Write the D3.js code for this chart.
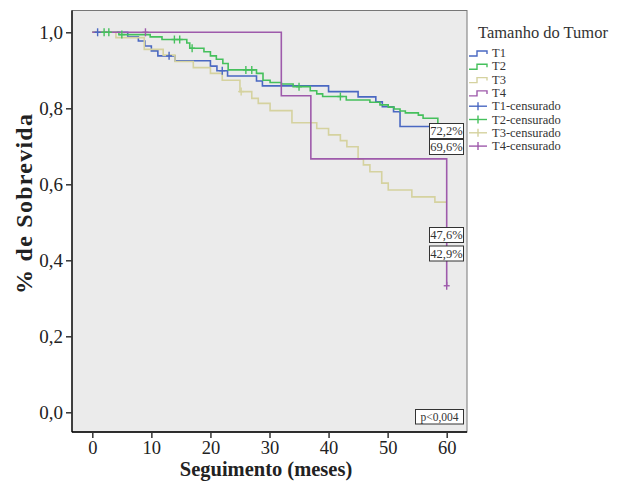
<!DOCTYPE html>
<html><head><meta charset="utf-8">
<script src="https://cdn.jsdelivr.net/npm/d3@7"></script>
<style>body{margin:0;background:#fff}svg{display:block}text{font-family:"Liberation Serif","DejaVu Serif",serif}</style>
</head><body>
<svg id="c" width="617" height="483"></svg>
<script>
const seriesNames = ["T1","T2","T3","T4"];
const censorNames = ["T1-censurado","T2-censurado","T3-censurado","T4-censurado"];
const colors = ["#4a68c2","#45c05c","#d5d29f","#9e5aab"];

const t1Times = [0,6,7.8,8.9,10,11.1,14,20,21.1,22.9,27.8,28.8,40,45,48,49.1,51,52.1,58.5,60];
const t1Surv  = [1,0.988,0.977,0.964,0.951,0.938,0.925,0.911,0.899,0.885,0.872,0.859,0.844,0.830,0.817,0.804,0.791,0.752,0.722,0.722];
const t2Times = [0,4.5,9.8,11.8,16,16.5,18.9,20,21,22.1,23,27.8,28.9,30.1,32,34,36.9,38,39,43,47,48.7,50.1,51.1,52.1,53,55.2,56,58.5,59.5,60];
const t2Surv  = [1,0.994,0.988,0.981,0.972,0.958,0.949,0.938,0.929,0.918,0.901,0.892,0.874,0.868,0.864,0.857,0.846,0.838,0.831,0.822,0.816,0.809,0.803,0.798,0.793,0.788,0.782,0.774,0.735,0.696,0.696];
const t3Times = [0,4,8.8,12,14,17.1,20,22,25,27,28.1,30.1,33.8,38,40,42,43.1,45,45.9,47,49,50.1,54.1,58,60];
const t3Surv  = [1,0.986,0.955,0.94,0.923,0.907,0.892,0.874,0.844,0.826,0.813,0.794,0.762,0.747,0.730,0.715,0.699,0.666,0.651,0.633,0.603,0.585,0.567,0.553,0.553];
const t4Times = [0,32,37,60];
const t4Surv  = [1,0.833,0.667,0.333];

const c1Times = [0.9,13,22];
const c1Surv  = [1,0.938,0.899];
const c2Times = [2.0,2.8,5.0,13.9,14.8,16.9,26,27,35,42,60];
const c2Surv  = [1,1,0.994,0.981,0.981,0.958,0.901,0.901,0.857,0.831,0.696];
const c3Times = [25.2];
const c3Surv  = [0.844];
const c4Times = [9,60];
const c4Surv  = [1,0.333];

const xTicks = [0,10,20,30,40,50,60];
const yTicks = [0,0.2,0.4,0.6,0.8,1.0];
const endLabels = ["72,2%","69,6%","47,6%","42,9%"];
const pLabel = "p<0,004";
const legendTitle = "Tamanho do Tumor";
const xTitle = "Seguimento (meses)";
const yTitle = "% de Sobrevida";

const curves = [[t1Times,t1Surv],[t2Times,t2Surv],[t3Times,t3Surv],[t4Times,t4Surv]];
const censors = [[c1Times,c1Surv],[c2Times,c2Surv],[c3Times,c3Surv],[c4Times,c4Surv]];

const FONT = '"Liberation Serif","DejaVu Serif",serif';
const svg = d3.select("#c");
const L=72, R=467, T=10.5, B=432;
const x = d3.scaleLinear().domain([0,60]).range([92.3,446.7]);
const y = d3.scaleLinear().domain([0,1]).range([412.3,32.3]);

svg.append("rect").attr("x",L).attr("y",T).attr("width",R-L).attr("height",B-T)
  .attr("fill","#ebebeb").attr("stroke","#777").attr("stroke-width",1);

// axes
const xAx = svg.append("g").attr("transform",`translate(0,${B})`)
  .call(d3.axisBottom(x).tickValues(xTicks).tickSize(6).tickPadding(3).tickFormat(d3.format("d")));
xAx.attr("font-family",FONT);
xAx.select(".domain").attr("d",`M${L},0H${R}`).attr("stroke","#000").attr("stroke-width",1.3);
xAx.selectAll(".tick line").attr("stroke","#333").attr("stroke-width",1.5);
xAx.selectAll("text").attr("font-size",18.5).attr("fill","#222");

const yAx = svg.append("g").attr("transform",`translate(${L},0)`)
  .call(d3.axisLeft(y).tickValues(yTicks).tickSize(6).tickPadding(3).tickFormat(d=>d3.format(".1f")(d).replace(".",",")));
yAx.attr("font-family",FONT);
yAx.select(".domain").attr("d",`M0,${T}V${B}`).attr("stroke","#000").attr("stroke-width",1.3);
yAx.selectAll(".tick line").attr("stroke","#333").attr("stroke-width",1.5);
yAx.selectAll("text").attr("font-size",19).attr("fill","#222");

svg.append("text").attr("x",266).attr("y",476).attr("text-anchor","middle")
  .attr("font-size",20.5).attr("font-weight","bold").attr("fill","#222").text(xTitle);
svg.append("text").attr("transform","translate(32,204) rotate(-90)").attr("text-anchor","middle")
  .attr("font-size",24).attr("font-weight","bold").attr("fill","#222")
  .attr("textLength",180).attr("lengthAdjust","spacing").text(yTitle);

// curves
const line = d3.line().x(d=>x(d[0])).y(d=>y(d[1])).curve(d3.curveStepAfter);
curves.forEach(([ts,ss],i)=>{
  const pts = ts.map((t,j)=>[t,ss[j]]);
  svg.append("path").attr("d",line(pts)).attr("fill","none")
    .attr("stroke",colors[i]).attr("stroke-width",1.6);
});
censors.forEach(([ts,ss],i)=>{
  const g = svg.append("g").attr("stroke",colors[i]).attr("stroke-width",1.4);
  ts.forEach((t,j)=>{
    const cx=x(t), cy=y(ss[j]);
    g.append("line").attr("x1",cx).attr("x2",cx).attr("y1",cy-4).attr("y2",cy+4);
    g.append("line").attr("x1",cx-3).attr("x2",cx+3).attr("y1",cy).attr("y2",cy);
  });
});

// end labels
const boxY = [123.5,139.5,227.5,246];
endLabels.forEach((lab,i)=>{
  svg.append("rect").attr("x",429.5).attr("y",boxY[i]).attr("width",34).attr("height",15)
    .attr("fill","#fff").attr("stroke","#333").attr("stroke-width",1);
  svg.append("text").attr("x",446.5).attr("y",boxY[i]+11.5).attr("text-anchor","middle")
    .attr("font-size",12.5).attr("fill","#333").text(lab);
});
svg.append("rect").attr("x",415.5).attr("y",409.5).attr("width",48).attr("height",14.5)
  .attr("fill","#fff").attr("stroke","#333").attr("stroke-width",1);
svg.append("text").attr("x",439.5).attr("y",420.5).attr("text-anchor","middle")
  .attr("font-size",11.5).attr("fill","#333").text(pLabel);

// legend
svg.append("text").attr("x",478).attr("y",38).attr("font-size",16.5).attr("fill","#333").text(legendTitle);
const legItems = seriesNames.map((n,i)=>({name:n,type:"line",c:colors[i]}))
  .concat(censorNames.map((n,i)=>({name:n,type:"cens",c:colors[i]})));
legItems.forEach((it,i)=>{
  const ly = 53 + i*13.3;
  if(it.type==="line"){
    svg.append("path").attr("d",`M469,${ly+3}H477V${ly-2}H487V${ly+1}`).attr("fill","none")
      .attr("stroke",it.c).attr("stroke-width",1.4);
  } else {
    svg.append("line").attr("x1",469).attr("x2",487).attr("y1",ly).attr("y2",ly).attr("stroke",it.c).attr("stroke-width",1.4);
    svg.append("line").attr("x1",478).attr("x2",478).attr("y1",ly-4).attr("y2",ly+4).attr("stroke",it.c).attr("stroke-width",1.4);
  }
  svg.append("text").attr("x",492).attr("y",ly+4).attr("font-size",12.5).attr("fill","#333").text(it.name);
});
</script>
</body></html>
